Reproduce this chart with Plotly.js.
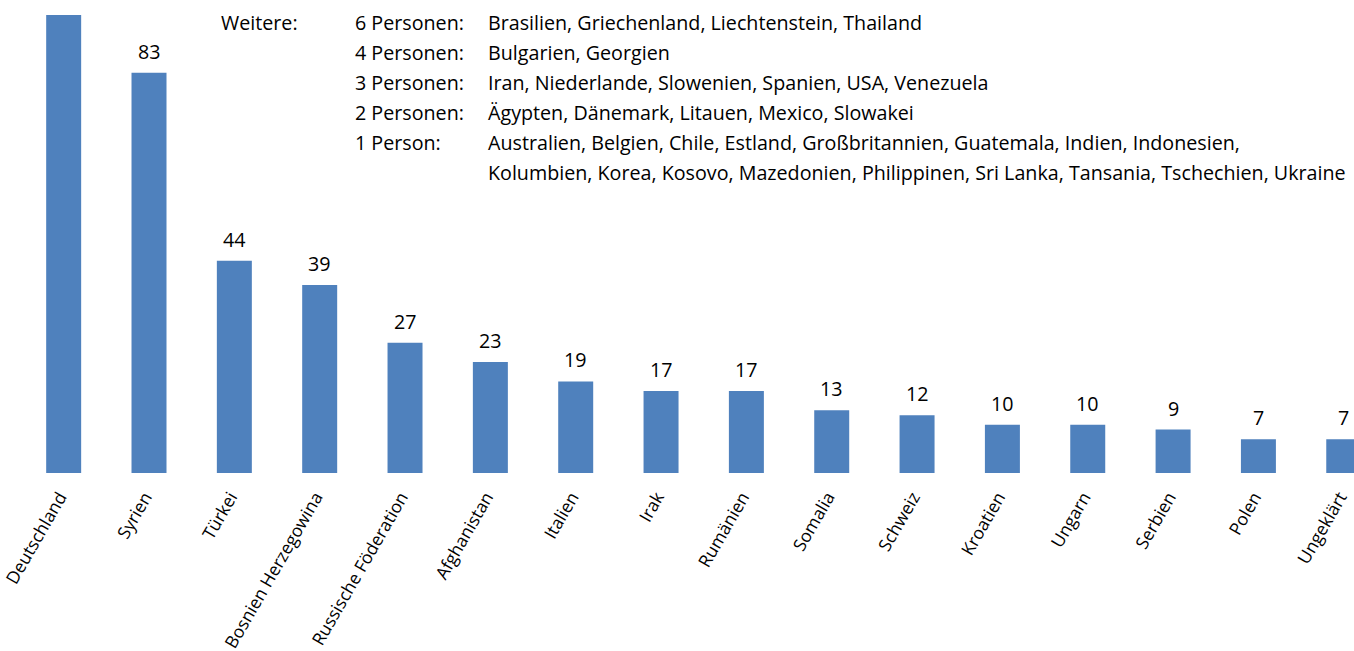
<!DOCTYPE html>
<html><head><meta charset="utf-8">
<script src="https://cdn.plot.ly/plotly-3.0.1.min.js"></script>
<style>html,body{margin:0;padding:0;background:#fff;overflow:hidden}</style>
</head><body>
<div id="chart" style="width:1354px;height:651px"></div>
<script>
const categories = ["Deutschland","Syrien","Türkei","Bosnien Herzegowina","Russische Föderation","Afghanistan","Italien","Irak","Rumänien","Somalia","Schweiz","Kroatien","Ungarn","Serbien","Polen","Ungeklärt"];
const values = [150,83,44,39,27,23,19,17,17,13,12,10,10,9,7,7];
const valueLabels = ["","83","44","39","27","23","19","17","17","13","12","10","10","9","7","7"];

const otherHeader = "Weitere:";
const otherGroups = ["6 Personen:","4 Personen:","3 Personen:","2 Personen:","1 Person:",""];
const otherCountries = [
  "Brasilien, Griechenland, Liechtenstein, Thailand",
  "Bulgarien, Georgien",
  "Iran, Niederlande, Slowenien, Spanien, USA, Venezuela",
  "Ägypten, Dänemark, Litauen, Mexico, Slowakei",
  "Australien, Belgien, Chile, Estland, Großbritannien, Guatemala, Indien, Indonesien,",
  "Kolumbien, Korea, Kosovo, Mazedonien, Philippinen, Sri Lanka, Tansania, Tschechien, Ukraine"
];

const FONT = "Open Sans, Noto Sans, sans-serif";
const TXT = {family:FONT,size:19.7,color:"#000"};
const annotations = [];
annotations.push({text: otherHeader, xref:"paper", yref:"paper", x:(222-21)/1333, y:1, xanchor:"left", yanchor:"middle", showarrow:false, font:TXT, xshift:-3, yshift: -(22-15)});
otherGroups.forEach((g,i)=>{
  const ys = -(22 + 30*i - 15);
  if (g) annotations.push({text:g, xref:"paper", yref:"paper", x:(355-21)/1333, y:1, xanchor:"left", yanchor:"middle", showarrow:false, font:TXT, xshift:-2, yshift: ys});
  annotations.push({text:otherCountries[i], xref:"paper", yref:"paper", x:(488-21)/1333, y:1, xanchor:"left", yanchor:"middle", showarrow:false, font:TXT, xshift:-2, yshift: ys});
});
// value labels above bars, positioned via data coordinates
categories.forEach((c,i)=>{
  if (!valueLabels[i]) return;
  annotations.push({text:valueLabels[i], xref:"x", yref:"y", x:c, y:values[i], xanchor:"center", yanchor:"bottom", showarrow:false, font:TXT, yshift:6});
});

const trace = {
  type:"bar", x:categories, y:values,
  cliponaxis:true,
  marker:{color:"#4F81BD"}, hoverinfo:"x+y"
};
const layout = {
  width:1354, height:651,
  margin:{l:21,r:0,t:15,b:178},
  paper_bgcolor:"#fff", plot_bgcolor:"#fff",
  bargap:0.59, showlegend:false,
  xaxis:{range:[-0.5,15.12], tickangle:-60, ticks:"outside", ticklen:6, tickcolor:"rgba(0,0,0,0)", ticklabelshift:-4, showline:false, showgrid:false, zeroline:false, tickfont:{family:FONT,size:17.5,color:"#000"}, fixedrange:true},
  yaxis:{range:[0,95], visible:false, showgrid:false, zeroline:false, fixedrange:true},
  annotations: annotations,
  font:{family:FONT}
};
Plotly.newPlot("chart",[trace],layout,{displayModeBar:false,staticPlot:true});
</script>
</body></html>
